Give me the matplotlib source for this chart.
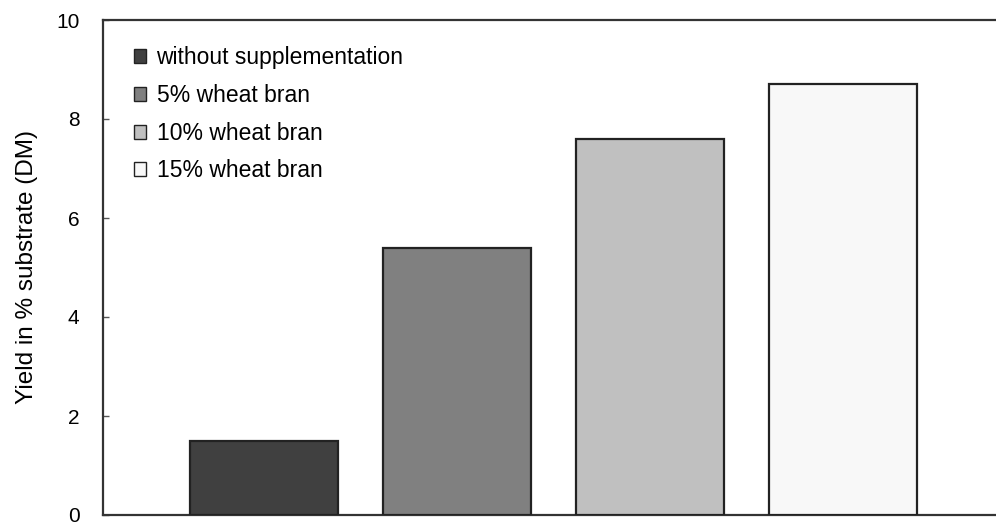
import matplotlib
matplotlib.use("Agg")
import matplotlib.pyplot as plt
from matplotlib.patches import Patch

plt.rcParams['font.family'] = ['Liberation Sans', 'DejaVu Sans']

categories = ["without supplementation", "5% wheat bran", "10% wheat bran", "15% wheat bran"]
values = [1.5, 5.4, 7.6, 8.7]
colors = ["#404040", "#808080", "#c0c0c0", "#f8f8f8"]
yticks = [0, 2, 4, 6, 8, 10]

fig = plt.figure(figsize=(9.96, 5.26), dpi=100)
ax = fig.add_axes([103/996, 11/526, 1 - 103/996, 495/526])

x = list(range(len(values)))
bars = ax.bar(x, values, width=148/193, color=colors, edgecolor="#222222", linewidth=1.6, zorder=3)

ax.set_xlim((103-264)/193, (996-264)/193)
ax.set_ylim(0, 10)
ax.set_yticks(yticks)
ax.set_yticklabels([str(t) for t in yticks], fontsize=15)
ax.set_xticks([])
ax.tick_params(axis='y', direction='in', length=4, width=1, color='#555555', pad=17)
ax.spines['right'].set_visible(False)
for s in ['left', 'bottom', 'top']:
    ax.spines[s].set_linewidth(1.6)
    ax.spines[s].set_color('#333333')

ax.set_ylabel("Yield in % substrate (DM)", fontsize=17.5, labelpad=13)

handles = [Patch(facecolor=c, edgecolor="#222222", linewidth=1) for c in colors]
ax.legend(handles, categories, loc='upper left', bbox_to_anchor=(0.024, 0.965), frameon=False,
          fontsize=16.5, handlelength=0.55, handleheight=0.55, handletextpad=0.45, labelspacing=0.64,
          borderaxespad=0)

fig.savefig("out.png", dpi=100)
